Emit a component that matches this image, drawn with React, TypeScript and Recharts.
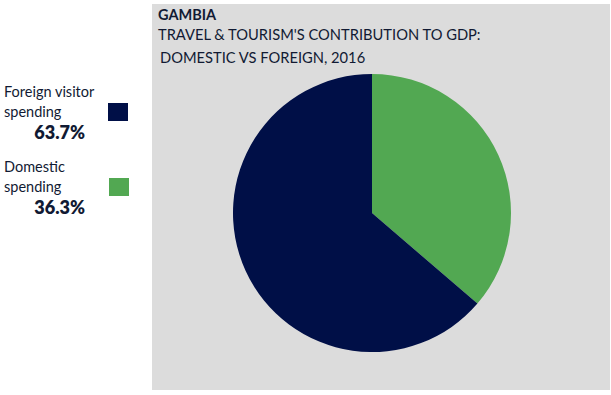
import React from 'react';
import { PieChart, Pie, Cell } from 'recharts';

const categories = ['Domestic spending', 'Foreign visitor spending'];
const shares = [36.3, 63.7];
const colors = ['#52a852', '#000f47'];
const legendLines = [['Foreign visitor', 'spending'], ['Domestic', 'spending']];
const legendOrder = [1, 0];

const titleText = 'GAMBIA';
const subtitleLines = ["TRAVEL & TOURISM'S CONTRIBUTION TO GDP:", 'DOMESTIC VS FOREIGN, 2016'];

const font = 'Lato, "Open Sans", sans-serif';
const textColor = '#111a33';

const data = categories.map((name, i) => ({ name, value: shares[i] }));

export default function App() {
  return (
    <div style={{ position: 'absolute', left: 0, top: 0, width: 611, height: 395, background: '#fff', fontFamily: font, color: textColor }}>
      {/* gray panel behind the pie */}
      <div style={{ position: 'absolute', left: 152, top: 4, width: 458, height: 386, background: '#dcdcdc' }} />

      <div style={{ position: 'absolute', left: 158, top: 6, fontSize: 14.5, fontWeight: 700, lineHeight: '18px' }}>{titleText}</div>
      <div style={{ position: 'absolute', left: 158, top: 25, fontSize: 14.7, lineHeight: '18px' }}>{subtitleLines[0]}</div>
      <div style={{ position: 'absolute', left: 160, top: 48, fontSize: 14.7, lineHeight: '18px' }}>{subtitleLines[1]}</div>

      {legendOrder.map((idx, k) => {
        const top = 82 + k * 75;
        return (
          <div key={categories[idx]}>
            <div style={{ position: 'absolute', left: 4, top, fontSize: 14.5, lineHeight: '20px' }}>
              {legendLines[k][0]}
              <br />
              {legendLines[k][1]}
            </div>
            <div style={{ position: 'absolute', left: 108 + k, top: top + 21, width: 20, height: 18, background: colors[idx] }} />
            <div style={{ position: 'absolute', left: 4, width: 81, textAlign: 'right', top: top + 39, fontSize: 18, fontWeight: 800, lineHeight: '22px' }}>
              {shares[idx].toFixed(1)}%
            </div>
          </div>
        );
      })}

      <div style={{ position: 'absolute', left: 0, top: 0 }}>
        <PieChart width={611} height={395} margin={{ top: 0, right: 0, bottom: 0, left: 0 }}>
          <Pie
            data={data}
            dataKey="value"
            nameKey="name"
            cx={372}
            cy={213}
            outerRadius={139}
            startAngle={90}
            endAngle={-270}
            stroke="none"
            isAnimationActive={false}
          >
            {data.map((d, i) => (
              <Cell key={d.name} fill={colors[i]} />
            ))}
          </Pie>
        </PieChart>
      </div>
    </div>
  );
}
